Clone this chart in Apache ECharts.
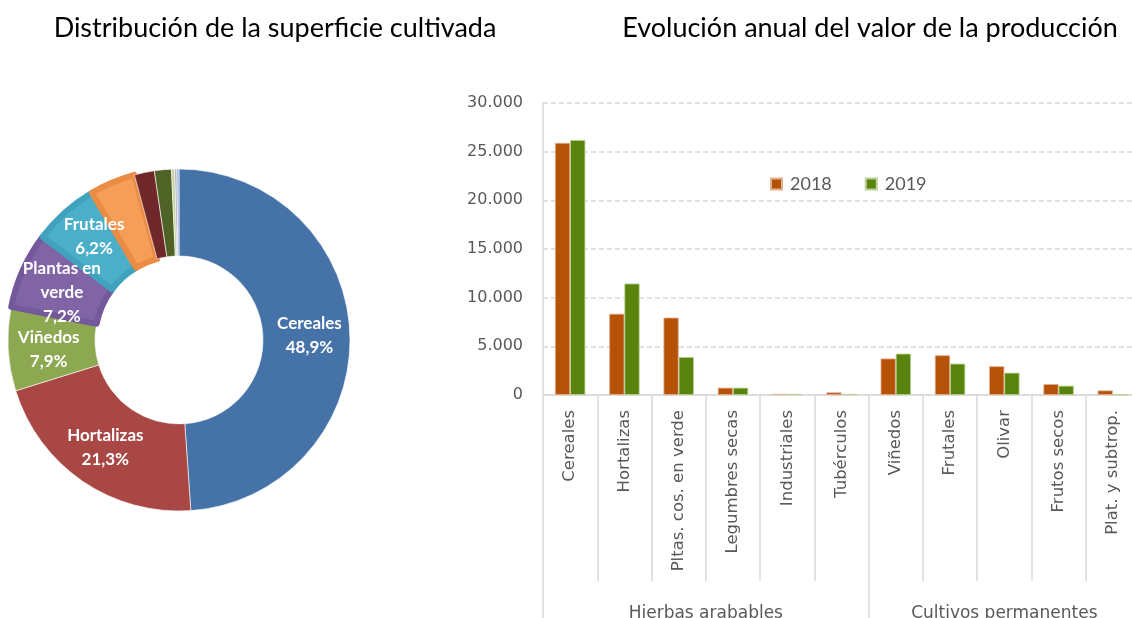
<!DOCTYPE html>
<html>
<head>
<meta charset="utf-8">
<script src="https://cdn.jsdelivr.net/npm/echarts@6/dist/echarts.min.js"></script>
<style>
  html, body { margin: 0; padding: 0; background: #ffffff; }
  #chart { width: 1132px; height: 618px; }
</style>
</head>
<body>
<div id="chart"></div>
<script>
// Superficie cultivada (% del total)
const surfaceNames = ['Cereales', 'Hortalizas', 'Viñedos', 'Plantas en\nverde', 'Frutales',
  'Olivar', 'Legumbres secas', 'Frutos secos', 'Industriales', 'Tubérculos', 'Plat. y subtrop.'];
const surfaceShares = [48.9, 21.3, 7.9, 7.2, 6.2, 4.3, 1.9, 1.6, 0.3, 0.2, 0.2];
const surfaceColors = ['#4573A8', '#A94744', '#8CA851', '#8064A6', '#4BAFCA',
  '#F59E57', '#6F2729', '#506327', '#C3D69B', '#B3A2C7', '#95B3D7'];
const surfaceBorders = [null, null, null, '#73599C', '#40A2BD', '#EA8C44', null, null, null, null, null];

// Valor de la producción por cultivo
const cropCategories = ['Cereales', 'Hortalizas', 'Pltas. cos. en verde', 'Legumbres secas',
  'Industriales', 'Tubérculos', 'Viñedos', 'Frutales', 'Olivar', 'Frutos secos', 'Plat. y subtrop.'];
const value2018 = [25900, 8350, 7950, 750, 100, 270, 3750, 4080, 2950, 1120, 470];
const value2019 = [26200, 11450, 3900, 750, 100, 100, 4250, 3220, 2290, 950, 40];
const yearNames = ['2018', '2019'];
const groupNames = ['Hierbas arabables', 'Cultivos permanentes'];
const groupSizes = [6, 5];

// Group boundaries and centres along the category axis
const groupEdges = [0];
groupSizes.forEach(s => groupEdges.push(groupEdges[groupEdges.length - 1] + s));
const groupCentres = groupSizes.map((s, i) => groupEdges[i] + s / 2);

const chart = echarts.init(document.getElementById('chart'), null, { renderer: 'canvas' });

const gridColor = '#D9D9D9';
const labelColor = '#595959';
const axisFont = 'DejaVu Sans';

// Nudge the crowded slice labels apart so they don't collide
const labelNudge = { 4: [2, -6], 3: [2, 6], 2: [0, 3] };

const pieData = surfaceNames.map((n, i) => ({
  name: n,
  value: surfaceShares[i],
  itemStyle: surfaceBorders[i]
    ? { color: surfaceColors[i], borderColor: surfaceBorders[i], borderWidth: 6 }
    : { color: surfaceColors[i], borderColor: '#ffffff', borderWidth: 0.6 },
  label: { show: surfaceShares[i] > 5, offset: labelNudge[i] || [0, 0] }
}));

chart.setOption({
  animation: false,
  title: [
    {
      text: 'Distribución de la superficie cultivada',
      left: 270, top: 10, textAlign: 'center',
      textStyle: { fontFamily: 'Lato', fontWeight: 'normal', fontSize: 27, color: '#000000' }
    },
    {
      text: 'Evolución anual del valor de la producción',
      left: 865, top: 10, textAlign: 'center',
      textStyle: { fontFamily: 'Lato', fontWeight: 'normal', fontSize: 27, color: '#000000' }
    }
  ],
  legend: {
    data: yearNames,
    left: 765, top: 170,
    itemWidth: 11, itemHeight: 11, itemGap: 33,
    icon: 'rect',
    textStyle: { fontFamily: 'Lato', fontSize: 18, color: labelColor, padding: [0, 0, 0, 3] }
  },
  grid: { left: 543, right: -8, top: 103, bottom: 223, containLabel: false, outerBoundsMode: 'none' },
  xAxis: [
    {
      type: 'category',
      data: cropCategories,
      boundaryGap: true,
      axisLine: { show: true, lineStyle: { color: gridColor, width: 1.5 } },
      axisTick: { show: true, interval: 0, length: 186, lineStyle: { color: gridColor, width: 1.5 } },
      axisLabel: {
        interval: 0, rotate: 90, margin: 15,
        fontFamily: axisFont, fontSize: 16.5, color: labelColor
      },
      splitLine: { show: false }
    },
    {
      type: 'value',
      min: 0, max: groupEdges[groupEdges.length - 1],
      position: 'bottom',
      axisLine: { show: false },
      axisTick: { show: true, customValues: groupEdges, length: 240, lineStyle: { color: gridColor, width: 1.5 } },
      axisLabel: {
        customValues: groupCentres,
        formatter: v => groupNames[groupCentres.indexOf(v)] || '',
        margin: 210, fontFamily: axisFont, fontSize: 17, color: labelColor
      },
      splitLine: { show: false }
    }
  ],
  yAxis: {
    type: 'value',
    min: 0, max: 30000, interval: 5000,
    axisLine: { show: true, lineStyle: { color: gridColor, width: 1.5 } },
    axisTick: { show: false },
    axisLabel: {
      margin: 20, fontFamily: axisFont, fontSize: 16, color: labelColor,
      formatter: v => v === 0 ? '0' : v.toString().replace(/\B(?=(\d{3})+(?!\d))/g, '.')
    },
    splitLine: { show: true, lineStyle: { color: gridColor, type: [5, 3], width: 1.5 } }
  },
  series: [
    {
      type: 'pie',
      center: [179, 340],
      radius: [84, 171],
      startAngle: 90,
      clockwise: true,
      avoidLabelOverlap: false,
      labelLayout: { hideOverlap: false },
      data: pieData,
      label: {
        position: 'inside',
        fontFamily: 'Lato', fontWeight: 'bold', fontSize: 17, lineHeight: 24,
        color: '#ffffff',
        formatter: p => p.name + '\n' + p.value.toFixed(1).replace('.', ',') + '%'
      },
      labelLine: { show: false }
    },
    {
      name: yearNames[0], type: 'bar', xAxisIndex: 0,
      data: value2018,
      barGap: '0%', barCategoryGap: '44%',
      itemStyle: { color: '#B65208', borderColor: '#E3B08E', borderWidth: 0.8 }
    },
    {
      name: yearNames[1], type: 'bar', xAxisIndex: 0,
      data: value2019,
      barGap: '0%', barCategoryGap: '44%',
      itemStyle: { color: '#58840D', borderColor: '#BBD094', borderWidth: 0.8 }
    }
  ]
});
</script>
</body>
</html>
